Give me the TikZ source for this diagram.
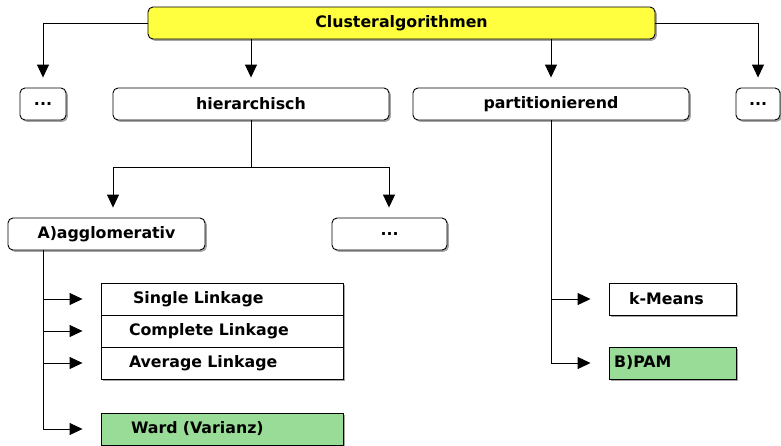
\documentclass[tikz,border=0pt]{standalone}
\usepackage{fontspec}
\setmainfont{DejaVu Sans}
\usetikzlibrary{arrows.meta,shadows}
\definecolor{topyellow}{HTML}{FFFF40}
\definecolor{leafgreen}{HTML}{98DC98}
\begin{document}
\begin{tikzpicture}[x=1pt,y=-1pt,
  every node/.style={font=\fontsize{15.8}{18}\selectfont\bfseries},
  shad/.style={drop shadow={shadow xshift=1.8pt,shadow yshift=-1.8pt,opacity=0.35,fill=black}},
  rbox/.style={draw=black,line width=0.9pt,fill=white,rounded corners=5pt,minimum height=32pt,inner sep=0pt,shad},
  sbox/.style={draw=black,line width=0.9pt,fill=white,minimum height=32pt,inner sep=0pt,shad},
  conn/.style={line width=0.9pt,-{Triangle[length=13pt,width=12pt]}},
  vconn/.style={conn,shorten >=10pt},
  hconn/.style={conn,shorten >=18pt},
  plain/.style={line width=0.9pt}
]
\useasboundingbox (0,0) rectangle (781,445);
% top row
\node[rbox,fill=topyellow,minimum width=507pt] (root) at (401.5,23) {Clusteralgorithmen};
\node[rbox,minimum width=46pt] (dl) at (43,104) {...};
\node[rbox,minimum width=276pt] (hier) at (251,104) {hierarchisch};
\node[rbox,minimum width=276pt] (part) at (551,104) {partitionierend};
\node[rbox,minimum width=44pt] (dr) at (758,104) {...};
% second row
\node[rbox,minimum width=197pt] (agg) at (106.5,234) {A)agglomerativ};
\node[rbox,minimum width=115pt] (dm) at (389.5,234) {...};
% linkage boxes
\node[sbox,minimum width=242pt,text width=182pt,align=left,inner xsep=30pt] (single) at (222,299) {\hspace*{2pt}Single Linkage};
\node[sbox,minimum width=242pt,text width=182pt,align=left,inner xsep=30pt] (complete) at (222,331) {\hspace*{-2pt}Complete Linkage};
\node[sbox,minimum width=242pt,text width=182pt,align=left,inner xsep=30pt] (average) at (222,363) {\hspace*{-2pt}Average Linkage};
\node[sbox,fill=leafgreen,minimum width=242pt,text width=182pt,align=left,inner xsep=30pt] (ward) at (222,429) {Ward (Varianz)};
% partitioning leaves
\node[sbox,minimum width=127pt,text width=95pt,align=left,inner xsep=16pt] (kmeans) at (672.5,299) {\hspace*{4pt}k-Means};
\node[sbox,fill=leafgreen,minimum width=127pt,text width=117pt,align=left,inner xsep=5pt] (pam) at (672.5,363) {B)PAM};
% coordinates
\coordinate (hsplit) at (251,167);
\coordinate (hl) at (113,167);
\coordinate (hr) at (389,167);
% connectors from root
\draw[vconn] (root.west) -| (dl.north);
\draw[vconn] (root.east) -| (dr.north);
\draw[vconn] (root.south -| hier.north) -- (hier.north);
\draw[vconn] (root.south -| part.north) -- (part.north);
% hierarchical split
\draw[plain] (hier.south) -- (hsplit);
\draw[plain] (hl) -- (hr);
\draw[vconn] (hl) -- (hl |- agg.north);
\draw[vconn] (hr) -- (hr |- dm.north);
% agglomerative
\coordinate (ax) at (43,250);
\draw[plain] (ax) -- (ax |- ward.west);
\draw[hconn] (ax |- single.west) -- (single.west);
\draw[hconn] (ax |- complete.west) -- (complete.west);
\draw[hconn] (ax |- average.west) -- (average.west);
\draw[hconn] (ax |- ward.west) -- (ward.west);
% partitioning
\draw[plain] (part.south) -- (part.south |- pam.west);
\draw[hconn] (part.south |- kmeans.west) -- (kmeans.west);
\draw[hconn] (part.south |- pam.west) -- (pam.west);
\end{tikzpicture}
\end{document}
